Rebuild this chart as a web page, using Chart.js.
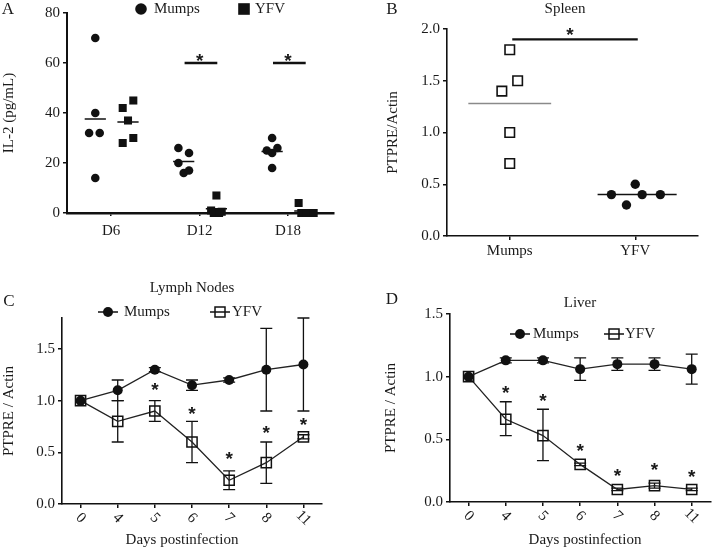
<!DOCTYPE html>
<html>
<head>
<meta charset="utf-8">
<script src="https://cdn.jsdelivr.net/npm/chart.js@4.4.0/dist/chart.umd.min.js"></script>
<style>
  body { margin: 0; background: #fff; }
  #wrap { position: relative; width: 719px; height: 548px; }
  canvas { position: absolute; }
</style>
</head>
<body>
<div id="wrap">
  <canvas id="chartA" width="360" height="260" style="left:0;top:0"></canvas>
  <canvas id="chartB" width="359" height="260" style="left:360px;top:0"></canvas>
  <canvas id="chartC" width="360" height="288" style="left:0;top:260px"></canvas>
  <canvas id="chartD" width="359" height="288" style="left:360px;top:260px"></canvas>
</div>
<script>
// ---- data ----
// A: IL-2 per animal
const il2Days = ['D6', 'D12', 'D18'];
const il2Mumps = [[70, 40, 32, 32, 14], [26, 24, 20, 16, 17], [30, 25, 24, 26, 18]];
const il2Yfv = [[42, 45, 37, 28, 30], [7, 1, 0.5, 0, 0], [4, 0, 0, 0, 0]];
const il2SigGroups = [1, 2];
const il2SigLevel = 60;

// B: spleen
const spleenGroups = ['Mumps', 'YFV'];
const spleenMumps = [1.8, 1.5, 1.4, 1.0, 0.7];
const spleenYfv = [0.4, 0.5, 0.4, 0.4, 0.3];
const spleenSigLevel = 1.9;

// C + D: days postinfection
const days = ['0', '4', '5', '6', '7', '8', '11'];

const lnMumps = [1.0, 1.1, 1.3, 1.15, 1.2, 1.3, 1.35];
const lnMumpsLo = [1.0, 1.0, 1.28, 1.1, 1.18, 0.9, 0.9];
const lnMumpsHi = [1.0, 1.2, 1.32, 1.2, 1.22, 1.7, 1.8];
const lnYfv = [1.0, 0.8, 0.9, 0.6, 0.23, 0.4, 0.65];
const lnYfvLo = [1.0, 0.6, 0.8, 0.4, 0.14, 0.2, 0.63];
const lnYfvHi = [1.0, 1.0, 1.0, 0.8, 0.32, 0.6, 0.67];
const lnStars = [null, null, 1.13, 0.9, 0.46, 0.72, 0.79];

const liverMumps = [1.0, 1.13, 1.13, 1.06, 1.1, 1.1, 1.06];
const liverMumpsLo = [1.0, 1.11, 1.11, 0.97, 1.05, 1.05, 0.94];
const liverMumpsHi = [1.0, 1.15, 1.15, 1.15, 1.15, 1.15, 1.18];
const liverYfv = [1.0, 0.66, 0.53, 0.3, 0.1, 0.13, 0.1];
const liverYfvLo = [1.0, 0.53, 0.33, 0.29, 0.09, 0.11, 0.09];
const liverYfvHi = [1.0, 0.8, 0.74, 0.31, 0.11, 0.15, 0.11];
const liverStars = [null, 0.89, 0.83, 0.43, 0.23, 0.28, 0.22];

// scatter spread (x offsets, in category units)
const jitAm = [[0, 0, -0.07, 0.05, 0], [-0.06, 0.06, -0.06, 0, 0.06], [0, -0.06, 0, 0.06, 0]];
const jitAy = [[-0.06, 0.06, 0, -0.06, 0.06], [0, -0.06, 0.06, -0.03, 0.03], [-0.07, -0.04, 0.02, 0.07, 0.1]];
const jitBm = [0, 0.063, -0.063, 0, 0];
const jitBy = [-0.19, 0, 0.055, 0.2, -0.07];

// ---- look ----
const INK = '#111';
const SERIF = '"Liberation Serif", "Times New Roman", serif';
Chart.defaults.font.family = SERIF;
Chart.defaults.font.size = 15;
Chart.defaults.color = '#1a1a1a';
Chart.defaults.animation = false;
Chart.defaults.plugins.legend.display = false;
Chart.defaults.plugins.tooltip.enabled = false;

const mean = arr => arr.reduce((a, b) => a + b, 0) / arr.length;

function drawMarker(ctx, kind, x, y, big) {
    const r = big ? 5.8 : 5;
    ctx.save();
    ctx.strokeStyle = INK;
    ctx.fillStyle = INK;
    ctx.lineWidth = 1.5;
    if (kind.startsWith('line')) {
        ctx.beginPath();
        ctx.moveTo(x - 10, y);
        ctx.lineTo(x + 10, y);
        ctx.stroke();
    }
    if (kind === 'dot' || kind === 'lineDot') {
        ctx.beginPath();
        ctx.arc(x, y, r, 0, Math.PI * 2);
        ctx.fill();
    } else if (kind === 'box') {
        ctx.fillRect(x - r, y - r, 2 * r, 2 * r);
    } else if (kind === 'lineBox') {
        ctx.strokeRect(x - 5, y - 5, 10, 10);
    }
    ctx.restore();
}

// texts, legends, stars, error bars and slanted day labels
const decor = {
    id: 'decor',
    beforeDatasetsDraw(chart, args, o) {
        const {ctx} = chart;
        const xs = chart.scales.x, ys = chart.scales.y;
        (o.errors || []).forEach(e => {
            e.lo.forEach((lo, i) => {
                const hi = e.hi[i];
                if (lo === hi) return;
                const px = xs.getPixelForValue(i);
                const y1 = ys.getPixelForValue(lo), y2 = ys.getPixelForValue(hi);
                ctx.save();
                ctx.strokeStyle = INK;
                ctx.lineWidth = 1.3;
                ctx.beginPath();
                ctx.moveTo(px, y1); ctx.lineTo(px, y2);
                ctx.moveTo(px - 6, y1); ctx.lineTo(px + 6, y1);
                ctx.moveTo(px - 6, y2); ctx.lineTo(px + 6, y2);
                ctx.stroke();
                ctx.restore();
            });
        });
    },
    afterDraw(chart, args, o) {
        const {ctx} = chart;
        const xs = chart.scales.x, ys = chart.scales.y;
        ctx.save();
        ctx.fillStyle = '#1a1a1a';
        ctx.textBaseline = 'middle';
        (o.texts || []).forEach(t => {
            ctx.font = (t.size || 15) + 'px ' + SERIF;
            ctx.textAlign = t.align || 'center';
            ctx.fillText(t.text, t.x, t.y);
        });
        (o.legend || []).forEach(l => {
            drawMarker(ctx, l.kind, l.x, l.y, l.big);
            ctx.font = '15px ' + SERIF;
            ctx.textAlign = 'left';
            ctx.fillStyle = '#1a1a1a';
            ctx.fillText(l.text, l.tx, l.y);
        });
        if (o.stars) {
            ctx.font = 'bold 19px "Liberation Sans", Arial, sans-serif';
            ctx.textAlign = 'center';
            ctx.textBaseline = 'alphabetic';
            o.stars.ys.forEach((v, i) => {
                if (v === null) return;
                const px = xs.getPixelForValue(o.stars.xs ? o.stars.xs[i] : i);
                ctx.fillText('*', px, ys.getPixelForValue(v) + 9);
            });
        }
        if (o.slanted) {
            ctx.font = '15px ' + SERIF;
            ctx.textAlign = 'center';
            ctx.textBaseline = 'middle';
            o.slanted.forEach((lab, i) => {
                ctx.save();
                ctx.translate(xs.getPixelForValue(i), xs.top + 14);
                ctx.rotate(Math.PI / 4);
                ctx.fillText(lab, 0, 0);
                ctx.restore();
            });
        }
        ctx.restore();
    }
};

function yAxis(min, max, tickVals, width, fmt, title, titleTop, bw) {
    return {
        type: 'linear', min: min, max: max,
        afterBuildTicks: s => { s.ticks = tickVals.map(v => ({value: v})); },
        afterFit: s => { s.width = width; },
        ticks: { padding: 3, callback: fmt },
        grid: { drawOnChartArea: false, tickLength: 4, color: INK, lineWidth: 1.5 },
        border: { color: INK, width: bw },
        title: { display: true, text: title, padding: {top: titleTop, bottom: 0} }
    };
}

function jitter(groups, shift, jit) {
    const pts = [];
    groups.forEach((vals, g) => vals.forEach((v, k) => pts.push({x: g + 1 + shift + jit[g][k], y: v})));
    return pts;
}

function hLine(x1, x2, y, color, width) {
    return {
        data: [{x: x1, y: y}, {x: x2, y: y}],
        showLine: true, pointRadius: 0, borderColor: color, borderWidth: width, clip: false
    };
}

// ---- A ----
const aSets = [
    { data: jitter(il2Mumps, -0.18, jitAm), pointStyle: 'circle', pointRadius: 4.3,
      backgroundColor: INK, borderColor: INK, borderWidth: 0, clip: false },
    { data: jitter(il2Yfv, 0.19, jitAy), pointStyle: 'rect', pointRadius: 5.7,
      backgroundColor: INK, borderColor: INK, borderWidth: 0, clip: false }
];
il2Mumps.forEach((g, i) => aSets.push(hLine(i + 1 - 0.3, i + 1 - 0.06, mean(g), INK, 1.5)));
il2Yfv.forEach((g, i) => aSets.push(hLine(i + 1 + 0.07, i + 1 + 0.31, mean(g), INK, 1.5)));
il2SigGroups.forEach(g => aSets.push(hLine(g + 1 - 0.17, g + 1 + 0.2, il2SigLevel, INK, 2.5)));

new Chart(document.getElementById('chartA'), {
    type: 'scatter',
    data: { datasets: aSets },
    options: {
        responsive: false,
        layout: { padding: { left: 0, right: 26, top: 13, bottom: 0 } },
        scales: {
            x: {
                type: 'linear', min: 0.5, max: 3.52,
                afterBuildTicks: s => { s.ticks = [1, 2, 3].map(v => ({value: v})); },
                afterFit: s => { s.height = 47; },
                ticks: { padding: 6, callback: v => il2Days[v - 1] },
                grid: { drawOnChartArea: false, tickLength: 3, color: INK, lineWidth: 1.5 },
                border: { color: INK, width: 2.5 }
            },
            y: yAxis(0, 80, [0, 20, 40, 60, 80], 67, v => v, 'IL-2 (pg/mL)', 0, 2)
        },
        plugins: {
            decor: {
                texts: [{ text: 'A', x: 8, y: 10, size: 17 }],
                legend: [
                    { kind: 'dot', x: 141, y: 9, tx: 154, text: 'Mumps', big: true },
                    { kind: 'box', x: 244, y: 9, tx: 255, text: 'YFV', big: true }
                ],
                stars: { xs: il2SigGroups.map(g => g + 1), ys: il2SigGroups.map(() => il2SigLevel + 2) }
            }
        }
    },
    plugins: [decor]
});

// ---- B ----
new Chart(document.getElementById('chartB'), {
    type: 'scatter',
    data: {
        datasets: [
            { data: spleenMumps.map((v, k) => ({x: 0 + jitBm[k], y: v})), pointStyle: 'rect', pointRadius: 6.7,
              backgroundColor: 'rgba(0,0,0,0)', borderColor: INK, borderWidth: 1.6, clip: false },
            { data: spleenYfv.map((v, k) => ({x: 1 + jitBy[k], y: v})), pointStyle: 'circle', pointRadius: 4.7,
              backgroundColor: INK, borderColor: INK, borderWidth: 0, clip: false },
            hLine(-0.33, 0.33, mean(spleenMumps), '#8a8a8a', 1.5),
            hLine(0.7, 1.33, mean(spleenYfv), INK, 1.5),
            hLine(0.02, 1.02, spleenSigLevel, INK, 2.2)
        ]
    },
    options: {
        responsive: false,
        layout: { padding: { left: 22, right: 21, top: 29, bottom: 0 } },
        scales: {
            x: {
                type: 'linear', min: -0.5, max: 1.5,
                afterBuildTicks: s => { s.ticks = [0, 1].map(v => ({value: v})); },
                afterFit: s => { s.height = 24; },
                ticks: { padding: 2, callback: v => spleenGroups[v] },
                grid: { drawOnChartArea: false, tickLength: 4, color: INK, lineWidth: 1.5 },
                border: { color: INK, width: 1.6 }
            },
            y: yAxis(0, 2, [0, 0.5, 1, 1.5, 2], 65, v => v.toFixed(1), 'PTPRE/Actin', 2, 1.6)
        },
        plugins: {
            decor: {
                texts: [
                    { text: 'B', x: 32, y: 10, size: 17 },
                    { text: 'Spleen', x: 205, y: 9 }
                ],
                stars: { xs: [0.48], ys: [1.97] }
            }
        }
    },
    plugins: [decor]
});

// ---- C and D ----
function timeCourse(id, mum, mumLo, mumHi, yfv, yfvLo, yfvHi, stars, yMax, yTicks, pad, yWidth, xHeight, deco) {
    new Chart(document.getElementById(id), {
        type: 'line',
        data: {
            labels: days,
            datasets: [
                { data: mum, borderColor: '#222', borderWidth: 1.3, pointStyle: 'circle', pointRadius: 5,
                  pointBackgroundColor: INK, pointBorderColor: INK, pointBorderWidth: 0, clip: false },
                { data: yfv, borderColor: '#222', borderWidth: 1.3, pointStyle: 'rect', pointRadius: 7.2,
                  pointBackgroundColor: 'rgba(0,0,0,0)', pointBorderColor: INK, pointBorderWidth: 1.5, clip: false }
            ]
        },
        options: {
            responsive: false,
            layout: { padding: pad },
            scales: {
                x: {
                    type: 'category', offset: true,
                    afterFit: s => { s.height = xHeight; },
                    ticks: { display: false },
                    grid: { offset: false, drawOnChartArea: false, tickLength: 4, color: INK, lineWidth: 1.5 },
                    border: { color: INK, width: 1.6 }
                },
                y: yAxis(0, yMax, yTicks, yWidth, v => v.toFixed(1), 'PTPRE / Actin', 0, 1.6)
            },
            plugins: {
                decor: Object.assign({
                    errors: [{ lo: mumLo, hi: mumHi }, { lo: yfvLo, hi: yfvHi }],
                    stars: { ys: stars },
                    slanted: days
                }, deco)
            }
        },
        plugins: [decor]
    });
}

timeCourse('chartC', lnMumps, lnMumpsLo, lnMumpsHi, lnYfv, lnYfvLo, lnYfvHi, lnStars,
    1.8, [0, 0.5, 1, 1.5], { left: 0, right: 38, top: 58, bottom: 0 }, 62, 44, {
        texts: [
            { text: 'C', x: 9, y: 42, size: 17 },
            { text: 'Lymph Nodes', x: 192, y: 28 },
            { text: 'Days postinfection', x: 182, y: 280 }
        ],
        legend: [
            { kind: 'lineDot', x: 108, y: 52, tx: 124, text: 'Mumps' },
            { kind: 'lineBox', x: 220, y: 52, tx: 232, text: 'YFV' }
        ]
    });

timeCourse('chartD', liverMumps, liverMumpsLo, liverMumpsHi, liverYfv, liverYfvLo, liverYfvHi, liverStars,
    1.5, [0, 0.5, 1, 1.5], { left: 22, right: 1, top: 54, bottom: 0 }, 68, 46, {
        texts: [
            { text: 'D', x: 32, y: 40, size: 17 },
            { text: 'Liver', x: 220, y: 43 },
            { text: 'Days postinfection', x: 225, y: 280 }
        ],
        legend: [
            { kind: 'lineDot', x: 160, y: 74, tx: 173, text: 'Mumps' },
            { kind: 'lineBox', x: 254, y: 74, tx: 265, text: 'YFV' }
        ]
    });
</script>
</body>
</html>
